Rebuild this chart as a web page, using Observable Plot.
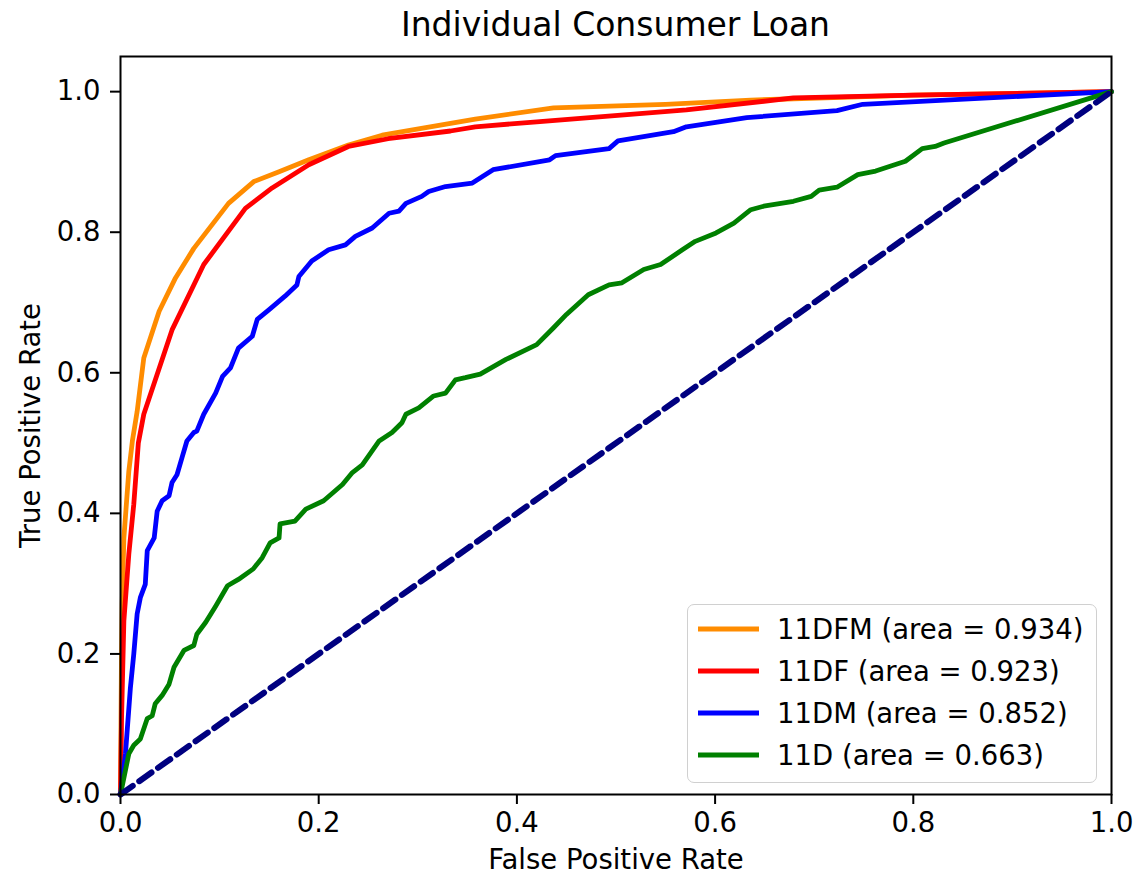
<!DOCTYPE html>
<html>
<head>
<meta charset="utf-8">
<script src="https://cdn.jsdelivr.net/npm/d3@7"></script>
<script src="https://cdn.jsdelivr.net/npm/@observablehq/plot@0.6"></script>
<style>
  html, body { margin: 0; padding: 0; background: #fff; }
  #wrap { position: relative; width: 1146px; height: 878px; font-family: "DejaVu Sans", sans-serif; }
  #title { position: absolute; left: 120px; width: 991px; top: 0; height: 50px; line-height: 50px;
           text-align: center; font-size: 33px; color: #000; }
  #chart { position: absolute; left: 0; top: 50px; }
  #legend { position: absolute; left: 687px; top: 604px; width: 408px; height: 174px;
            border: 1.5px solid #d0d0d0; border-radius: 7px; background: rgba(255,255,255,0.85);
            padding-top: 3px; box-sizing: content-box; }
  .row { height: 42px; display: flex; align-items: center; font-size: 27.5px; color: #000; }
  .row svg { margin-left: 10px; margin-right: 18px; }
</style>
</head>
<body>
<div id="wrap">
  <div id="title"></div>
  <div id="chart"></div>
  <div id="legend"></div>
</div>
<script>
const titleText = "Individual Consumer Loan";
const xLabel = "False Positive Rate";
const yLabel = "True Positive Rate";
const xTicks = [0, 0.2, 0.4, 0.6, 0.8, 1.0];
const yTicks = [0, 0.2, 0.4, 0.6, 0.8, 1.0];

const seriesNames = ["11DFM", "11DF", "11DM", "11D"];
const seriesAreas = [0.934, 0.923, 0.852, 0.663];
const seriesColors = ["#ff8c00", "#ff0000", "#0000ff", "#008000"];

// ROC curve: 11DFM
const fprDFM = [0, 0.001, 0.0017, 0.0034, 0.0084, 0.012, 0.0168, 0.0235, 0.039, 0.0555, 0.074, 0.109, 0.1345, 0.16, 0.19, 0.23, 0.264, 0.333, 0.358, 0.437, 0.55, 0.636, 0.8, 1.0];
const tprDFM = [0, 0.2, 0.271, 0.365, 0.46, 0.503, 0.545, 0.621, 0.6875, 0.735, 0.777, 0.841, 0.872, 0.886, 0.903, 0.924, 0.938, 0.955, 0.961, 0.977, 0.982, 0.988, 0.995, 1.0];

// ROC curve: 11DF
const fprDF = [0, 0.001, 0.0034, 0.0084, 0.0134, 0.018, 0.0235, 0.052, 0.084, 0.126, 0.153, 0.19, 0.23, 0.27, 0.333, 0.358, 0.42, 0.571, 0.679, 0.8, 1.0];
const tprDF = [0, 0.105, 0.247, 0.342, 0.413, 0.5, 0.541, 0.661, 0.754, 0.834, 0.863, 0.896, 0.922, 0.933, 0.944, 0.95, 0.957, 0.974, 0.991, 0.995, 1.0];

// ROC curve: 11DM
const fprDM = [0, 0.005, 0.01, 0.0134, 0.0168, 0.02, 0.025, 0.027, 0.034, 0.037, 0.042, 0.049, 0.052, 0.057, 0.062, 0.067, 0.074, 0.077, 0.084, 0.096, 0.103, 0.111, 0.119, 0.133, 0.138, 0.15, 0.166, 0.178, 0.18, 0.193, 0.21, 0.227, 0.237, 0.254, 0.271, 0.281, 0.288, 0.304, 0.311, 0.328, 0.355, 0.376, 0.433, 0.439, 0.493, 0.502, 0.558, 0.571, 0.632, 0.723, 0.749, 1.0];
const tprDM = [0, 0.058, 0.152, 0.2, 0.257, 0.28, 0.299, 0.347, 0.365, 0.403, 0.418, 0.425, 0.444, 0.455, 0.479, 0.503, 0.515, 0.517, 0.541, 0.571, 0.595, 0.607, 0.635, 0.652, 0.676, 0.69, 0.709, 0.725, 0.737, 0.759, 0.775, 0.782, 0.794, 0.806, 0.827, 0.83, 0.841, 0.851, 0.858, 0.865, 0.87, 0.889, 0.903, 0.909, 0.919, 0.93, 0.943, 0.95, 0.963, 0.973, 0.982, 1.0];

// ROC curve: 11D
const fprD = [0, 0.0084, 0.0134, 0.02, 0.027, 0.032, 0.035, 0.042, 0.049, 0.054, 0.064, 0.074, 0.077, 0.086, 0.096, 0.108, 0.119, 0.134, 0.143, 0.151, 0.16, 0.161, 0.176, 0.187, 0.205, 0.224, 0.234, 0.244, 0.261, 0.274, 0.284, 0.288, 0.301, 0.316, 0.328, 0.338, 0.348, 0.363, 0.389, 0.42, 0.437, 0.45, 0.472, 0.493, 0.506, 0.528, 0.545, 0.567, 0.58, 0.601, 0.619, 0.636, 0.649, 0.679, 0.697, 0.705, 0.723, 0.744, 0.762, 0.792, 0.809, 0.822, 0.831, 1.0];
const tprD = [0, 0.058, 0.07, 0.079, 0.108, 0.112, 0.129, 0.141, 0.157, 0.181, 0.205, 0.212, 0.228, 0.245, 0.268, 0.297, 0.306, 0.321, 0.337, 0.358, 0.365, 0.385, 0.389, 0.406, 0.418, 0.441, 0.458, 0.469, 0.503, 0.515, 0.529, 0.541, 0.55, 0.567, 0.571, 0.59, 0.593, 0.598, 0.619, 0.64, 0.664, 0.683, 0.711, 0.725, 0.728, 0.747, 0.754, 0.775, 0.787, 0.799, 0.813, 0.832, 0.837, 0.844, 0.851, 0.86, 0.864, 0.882, 0.887, 0.901, 0.919, 0.922, 0.927, 1.0];

// Chance diagonal
const chanceFpr = [0, 1];
const chanceTpr = [0, 1];

const toRows = (fpr, tpr, name) => fpr.map((x, i) => ({x, y: tpr[i], name}));
const curves = [
  toRows(fprDFM, tprDFM, seriesNames[0]),
  toRows(fprDF, tprDF, seriesNames[1]),
  toRows(fprDM, tprDM, seriesNames[2]),
  toRows(fprD, tprD, seriesNames[3])
];
const chance = toRows(chanceFpr, chanceTpr, "chance");

const fmt = d3.format(".1f");

const chart = Plot.plot({
  width: 1146,
  height: 828,
  marginTop: 6,
  marginBottom: 84,
  marginLeft: 120,
  marginRight: 35,
  style: {fontFamily: "DejaVu Sans", fontSize: "27.5px", color: "#000", background: "#fff", overflow: "visible"},
  x: {domain: [0, 1]},
  y: {domain: [0, 1.05]},
  marks: [
    ...curves.map((rows, i) => Plot.line(rows, {
      x: "x", y: "y", stroke: seriesColors[i], strokeWidth: 4.8,
      strokeLinejoin: "round", strokeLinecap: "round"
    })),
    Plot.line(chance, {x: "x", y: "y", stroke: "#000080", strokeWidth: 6, strokeDasharray: "15,8"}),
    Plot.axisX({ticks: xTicks, tickFormat: fmt, tickSize: 10, tickPadding: 8, strokeWidth: 2,
                label: xLabel, labelAnchor: "center", labelArrow: "none", labelOffset: 74}),
    Plot.axisY({ticks: yTicks, tickFormat: fmt, tickSize: 10, tickPadding: 10, strokeWidth: 2,
                label: yLabel, labelAnchor: "center", labelArrow: "none", labelOffset: 100}),
    Plot.frame({stroke: "#000", strokeWidth: 2})
  ]
});
document.getElementById("chart").appendChild(chart);
document.getElementById("title").textContent = titleText;

// Legend rows
const legend = d3.select("#legend");
seriesNames.forEach((name, i) => {
  const row = legend.append("div").attr("class", "row");
  const sw = row.append("svg").attr("width", 61).attr("height", 10);
  sw.append("line").attr("x1", 0).attr("x2", 61).attr("y1", 5).attr("y2", 5)
    .attr("stroke", seriesColors[i]).attr("stroke-width", 4.8);
  row.append("span").text(`${name} (area = ${seriesAreas[i].toFixed(3)})`);
});
</script>
</body>
</html>
